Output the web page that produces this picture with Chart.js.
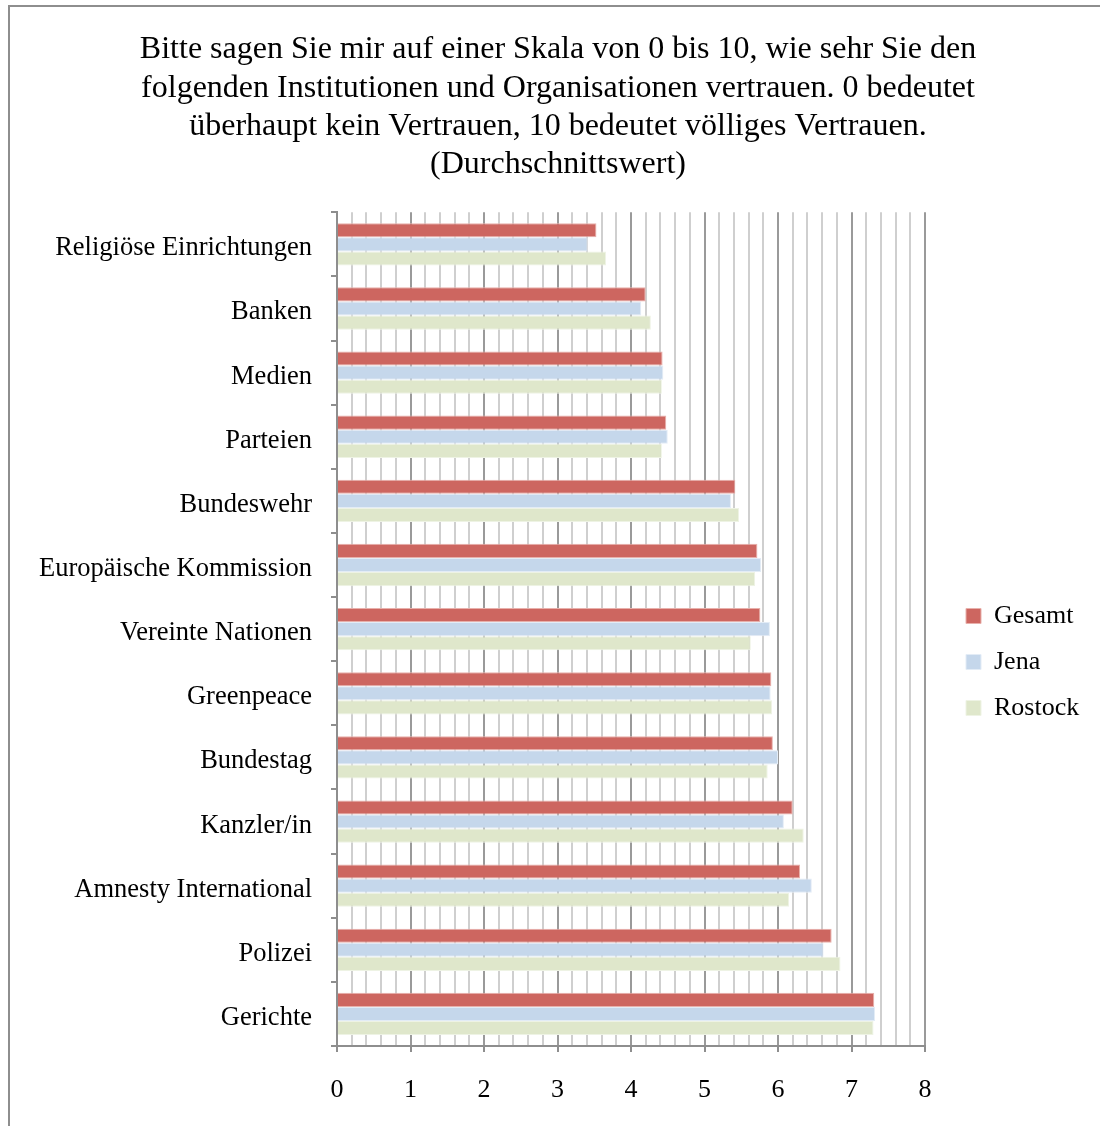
<!DOCTYPE html>
<html>
<head>
<meta charset="utf-8">
<script src="https://cdn.jsdelivr.net/npm/chart.js@4.4.1/dist/chart.umd.min.js"></script>
<style>
  html, body { margin: 0; padding: 0; background: #fff; overflow: hidden; }
  #frame {
    position: absolute; left: 8px; top: 5px;
    width: 1096px; height: 1130px;
    border: 2px solid #8e8e8e;
    background: #fff;
  }
  #chart { display: block; }
</style>
</head>
<body>
<div id="frame"><canvas id="chart" width="1096" height="1119"></canvas></div>
<script>
// Data (average trust, scale 0-10)
const categories = [
  'Religiöse Einrichtungen', 'Banken', 'Medien', 'Parteien', 'Bundeswehr',
  'Europäische Kommission', 'Vereinte Nationen', 'Greenpeace', 'Bundestag',
  'Kanzler/in', 'Amnesty International', 'Polizei', 'Gerichte'
];
const gesamt  = [3.53, 4.20, 4.43, 4.48, 5.42, 5.72, 5.76, 5.91, 5.93, 6.20, 6.30, 6.73, 7.31];
const jena    = [3.41, 4.14, 4.44, 4.50, 5.36, 5.77, 5.89, 5.90, 6.00, 6.08, 6.46, 6.62, 7.32];
const rostock = [3.66, 4.27, 4.42, 4.42, 5.47, 5.69, 5.63, 5.92, 5.86, 6.35, 6.15, 6.85, 7.30];
const xMin = 0;
const xMax = 8;
const minorStep = 0.2;

const titleLines = [
  'Bitte sagen Sie mir auf einer Skala von 0 bis 10, wie sehr Sie den',
  'folgenden Institutionen und Organisationen vertrauen. 0 bedeutet',
  'überhaupt kein Vertrauen, 10 bedeutet völliges Vertrauen.',
  '(Durchschnittswert)'
];

const serif = "'Liberation Serif', 'Times New Roman', serif";
const isMajor = v => Math.abs(v - Math.round(v)) < 1e-6;

// keep the plot area narrow like the original and push the legend down/right
const legendPlacement = {
  id: 'legendPlacement',
  afterInit(chart) {
    const legend = chart.legend;
    const fit = legend.fit.bind(legend);
    legend.fit = function () { fit(); this.width = 181; };
  },
  afterLayout(chart) {
    const l = chart.legend;
    l.left += 21; l.right += 21;
    l.top += 107; l.bottom += 107;
  }
};

new Chart(document.getElementById('chart').getContext('2d'), {
  type: 'bar',
  data: {
    labels: categories,
    datasets: [
      { label: 'Gesamt',  data: gesamt,  backgroundColor: '#cd6660', borderColor: '#e8b0ab', borderWidth: 1 },
      { label: 'Jena',    data: jena,    backgroundColor: '#c5d7eb', borderColor: '#e3ecf6', borderWidth: 1 },
      { label: 'Rostock', data: rostock, backgroundColor: '#dfe7cb', borderColor: '#eef3e4', borderWidth: 1 }
    ]
  },
  plugins: [legendPlacement],
  options: {
    indexAxis: 'y',
    responsive: false,
    animation: false,
    categoryPercentage: 0.66,
    barPercentage: 1.0,
    layout: { padding: { left: 0, right: 0, top: 0, bottom: 23 } },
    scales: {
      x: {
        type: 'linear',
        min: xMin,
        max: xMax,
        afterFit: s => { s.height = 57; },
        ticks: {
          stepSize: minorStep,
          autoSkip: false,
          maxRotation: 0,
          padding: 23,
          color: '#000',
          font: { family: serif, size: 26 },
          callback: v => isMajor(v) ? String(Math.round(v)) : ''
        },
        grid: {
          color: c => isMajor(c.tick.value) ? '#9a9a9a' : '#cfcfcf',
          lineWidth: 2,
          tickLength: 6,
          tickColor: c => isMajor(c.tick.value) ? '#8e8e8e' : 'rgba(0,0,0,0)'
        },
        border: { color: '#8e8e8e', width: 2 }
      },
      y: {
        type: 'category',
        afterFit: s => { s.width = 327; },
        ticks: {
          padding: 19,
          labelOffset: 4,
          color: '#000',
          font: { family: serif, size: 26.5 }
        },
        grid: {
          offset: true,
          drawOnChartArea: false,
          tickLength: 6,
          color: '#8e8e8e',
          lineWidth: 2
        },
        border: { color: '#8e8e8e', width: 2 }
      }
    },
    plugins: {
      title: {
        display: true,
        text: titleLines,
        color: '#000',
        font: { family: serif, size: 32, weight: 'normal', lineHeight: 1.19 },
        padding: { top: 24, bottom: 29 }
      },
      legend: {
        position: 'right',
        labels: {
          color: '#000',
          boxWidth: 15,
          boxHeight: 15,
          padding: 20,
          font: { family: serif, size: 26 }
        }
      },
      tooltip: { enabled: false }
    }
  }
});
</script>
</body>
</html>
